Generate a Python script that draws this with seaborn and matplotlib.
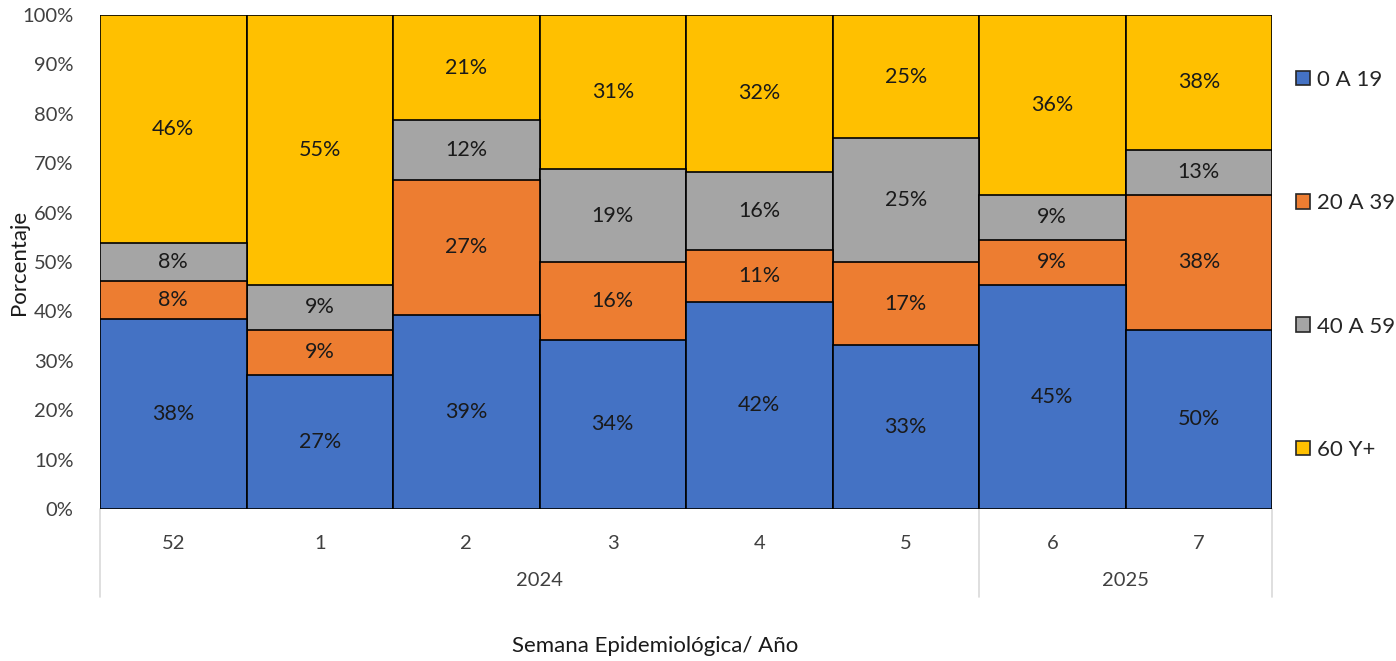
import matplotlib
matplotlib.use("Agg")
import matplotlib.pyplot as plt
import matplotlib.transforms as mtransforms
from matplotlib.patches import Patch
import seaborn as sns
import pandas as pd
import numpy as np

weeks = ["52", "1", "2", "3", "4", "5", "6", "7"]
years = ["2024", "2025"]
year_counts = [6, 2]
series = ["0 A 19", "20 A 39", "40 A 59", "60 Y+"]

# segment heights (%)
h_0_19 = [38.4, 27.2, 39.3, 34.3, 42.0, 33.2, 45.4, 36.3]
h_20_39 = [7.7, 9.1, 27.3, 15.6, 10.5, 16.7, 9.1, 27.3]
h_40_59 = [7.7, 9.1, 12.1, 19.0, 15.8, 25.1, 9.1, 9.1]
h_60 = [46.2, 54.6, 21.3, 31.1, 31.7, 25.0, 36.4, 27.3]

# printed data labels (%)
lab_0_19 = [38, 27, 39, 34, 42, 33, 45, 50]
lab_20_39 = [8, 9, 27, 16, 11, 17, 9, 38]
lab_40_59 = [8, 9, 12, 19, 16, 25, 9, 13]
lab_60 = [46, 55, 21, 31, 32, 25, 36, 38]

colors = ["#4472C4", "#ED7D31", "#A5A5A5", "#FFC000"]

sns.set_theme(style="white")
plt.rcParams["font.family"] = ["Lato", "DejaVu Sans"]

heights = [h_0_19, h_20_39, h_40_59, h_60]
labels = [lab_0_19, lab_20_39, lab_40_59, lab_60]
cum = np.cumsum(np.array(heights), axis=0)

df = pd.DataFrame({"semana": weeks})
for i, s in enumerate(series):
    df["cum_%d" % i] = cum[i]

fig = plt.figure(figsize=(13.96, 6.61), dpi=100)
ax = fig.add_axes([100 / 1396, 1 - 509 / 661, (1272 - 100) / 1396, (509 - 15) / 661])

for i in reversed(range(len(series))):
    sns.barplot(data=df, x="semana", y="cum_%d" % i, order=weeks, color=colors[i],
                saturation=1, width=1.0, edgecolor="black", linewidth=1.2,
                errorbar=None, ax=ax, zorder=3)

# data labels
for i in range(len(series)):
    bottoms = cum[i] - np.array(heights[i])
    for j in range(len(weeks)):
        ax.text(j, bottoms[j] + heights[i][j] / 2, "%d%%" % labels[i][j],
                ha="center", va="center", fontsize=15.5, color="#1a1a1a", zorder=5)

ax.set_xlim(-0.5, len(weeks) - 0.5)
ax.set_ylim(0, 100)
ax.set_yticks(np.arange(0, 101, 10))
ax.set_yticklabels(["%d%%" % v for v in range(0, 101, 10)], fontsize=14.5, color="#404040")
ax.tick_params(axis="y", length=0, pad=19)
ax.tick_params(axis="x", length=0, pad=19, labelsize=14.5, labelcolor="#404040")
ax.set_xlabel("")
ax.set_ylabel("")
for sp in ax.spines.values():
    sp.set_visible(False)
ax.axhline(0, color="#D9D9D9", lw=1.2, zorder=1)

fig.text(19 / 1396, 1 - 262 / 661, "Porcentaje", rotation=90, ha="center",
         va="center", fontsize=16, color="#1a1a1a")

# category group separators and year labels
trans = mtransforms.blended_transform_factory(ax.transData, ax.transAxes)
bounds = [-0.5]
for c in year_counts:
    bounds.append(bounds[-1] + c)
for b in bounds:
    ax.plot([b, b], [0, -88 / 494], transform=trans, color="#D9D9D9", lw=1.2,
            clip_on=False, zorder=1)
for k, y in enumerate(years):
    ax.text((bounds[k] + bounds[k + 1]) / 2, -72 / 494, y, transform=trans,
            ha="center", va="center", fontsize=14.5, color="#404040")

fig.text(655 / 1396, 1 - 646 / 661, "Semana Epidemiológica/ Año", ha="center",
         va="center", fontsize=16, color="#1a1a1a")

handles = [Patch(facecolor=colors[i], edgecolor="#262626", linewidth=1.2) for i in range(4)]
fig.legend(handles, series, loc="upper left", bbox_to_anchor=(1287 / 1396, 1 - 61 / 661),
           frameon=False, fontsize=16, labelspacing=4.65, handlelength=0.64,
           handleheight=0.64, handletextpad=0.3, borderaxespad=0, labelcolor="#262626")

fig.savefig("out.png", dpi=100)
